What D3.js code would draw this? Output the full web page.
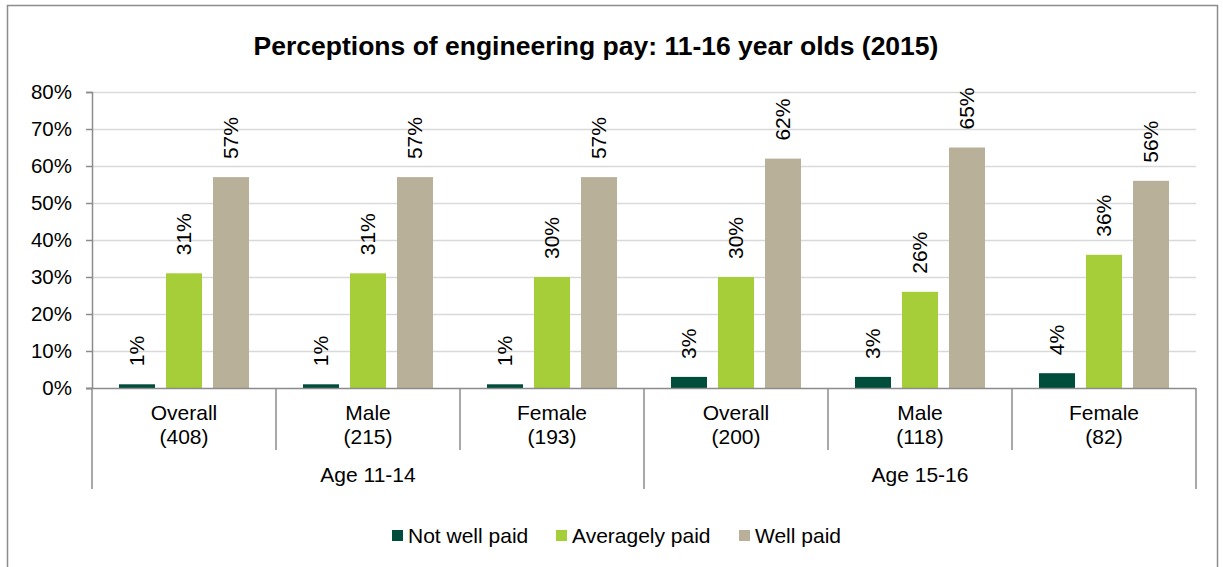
<!DOCTYPE html>
<html>
<head>
<meta charset="utf-8">
<script src="https://cdn.jsdelivr.net/npm/d3@7"></script>
<style>
  body { margin: 0; background: #fff; }
  svg text { font-family: "Liberation Sans", Arial, sans-serif; fill: #000; }
</style>
</head>
<body>
<div id="chart"></div>
<script>
  // data
  var groups = ['Age 11-14', 'Age 15-16'];
  var categories = ['Overall', 'Male', 'Female', 'Overall', 'Male', 'Female'];
  var counts = ['(408)', '(215)', '(193)', '(200)', '(118)', '(82)'];
  var groupOf = [0, 0, 0, 1, 1, 1];
  var series = ['Not well paid', 'Averagely paid', 'Well paid'];
  var notWell = [1, 1, 1, 3, 3, 4];
  var averagely = [31, 31, 30, 30, 26, 36];
  var well = [57, 57, 57, 62, 65, 56];
  var yTicks = [0, 10, 20, 30, 40, 50, 60, 70, 80];
  var colors = ['#004d3b', '#a6ce39', '#b9b099'];

(function () {
  var W = 1223, H = 567;
  var mLeft = 92, mRight = 1196, mTop = 92, mBottom = 388;
  var fs = '21px';

  var svg = d3.select('#chart').append('svg')
      .attr('width', W).attr('height', H);

  // outer frame
  svg.append('rect')
    .attr('x', 7.5).attr('y', 5.5)
    .attr('width', 1210).attr('height', 620)
    .attr('fill', 'none').attr('stroke', '#8c8c8c').attr('stroke-width', 1.5);

  svg.append('text')
    .attr('x', 596).attr('y', 55)
    .attr('text-anchor', 'middle')
    .style('font-size', '26.5px').style('font-weight', 'bold')
    .text('Perceptions of engineering pay: 11-16 year olds (2015)');

  var y = d3.scaleLinear().domain([0, 80]).range([mBottom, mTop]);
  var x0 = d3.scaleBand().domain(d3.range(categories.length)).range([mLeft, mRight]);
  var x1 = d3.scaleBand().domain(d3.range(series.length))
      .range([0, x0.bandwidth()]).paddingInner(0.234).paddingOuter(0.574);

  // gridlines
  svg.append('g').selectAll('line')
    .data(yTicks.filter(function (d) { return d > 0; })).enter()
    .append('line')
    .attr('x1', mLeft).attr('x2', mRight)
    .attr('y1', function (d) { return Math.round(y(d)) + 0.5; })
    .attr('y2', function (d) { return Math.round(y(d)) + 0.5; })
    .attr('stroke', '#d9d9d9').attr('stroke-width', 1.5);

  // y axis
  var yAxis = svg.append('g')
    .attr('transform', 'translate(' + mLeft + ',0)')
    .call(d3.axisLeft(y).tickValues(yTicks).tickSize(6).tickPadding(14)
      .tickFormat(function (d) { return d + '%'; }));
  yAxis.select('.domain').attr('stroke', '#8c8c8c').attr('stroke-width', 1.5);
  yAxis.selectAll('.tick line').attr('stroke', '#8c8c8c').attr('stroke-width', 1.5);
  yAxis.selectAll('.tick text')
    .style('font-size', '20.5px')
    .style('font-family', '"Liberation Sans", Arial, sans-serif')
    .attr('fill', '#000');

  var rows = categories.map(function (c, i) {
    return [notWell[i], averagely[i], well[i]];
  });

  var cat = svg.append('g').selectAll('g')
    .data(rows).enter()
    .append('g')
    .attr('transform', function (d, i) { return 'translate(' + x0(i) + ',0)'; });

  cat.selectAll('rect')
    .data(function (d) { return d; }).enter()
    .append('rect')
    .attr('x', function (d, j) { return x1(j); })
    .attr('width', x1.bandwidth())
    .attr('y', function (d) { return y(d); })
    .attr('height', function (d) { return y(0) - y(d); })
    .attr('fill', function (d, j) { return colors[j]; });

  cat.selectAll('text.val')
    .data(function (d) { return d; }).enter()
    .append('text')
    .attr('class', 'val')
    .attr('transform', function (d, j) {
      return 'translate(' + (x1(j) + x1.bandwidth() / 2 + 7) + ',' + (y(d) - 18) + ') rotate(-90)';
    })
    .style('font-size', fs)
    .text(function (d) { return d + '%'; });

  // x axis line
  svg.append('line')
    .attr('x1', mLeft - 6).attr('x2', mRight)
    .attr('y1', mBottom + 0.5).attr('y2', mBottom + 0.5)
    .attr('stroke', '#8c8c8c').attr('stroke-width', 1.5);

  // category separators
  svg.append('g').selectAll('line')
    .data(d3.range(categories.length + 1)).enter()
    .append('line')
    .attr('x1', function (i) { return i < categories.length ? x0(i) : mRight; })
    .attr('x2', function (i) { return i < categories.length ? x0(i) : mRight; })
    .attr('y1', mBottom)
    .attr('y2', function (i) { return i % 3 === 0 ? 489 : 450; })
    .attr('stroke', '#8c8c8c').attr('stroke-width', 1.5);

  var catLabels = svg.append('g').selectAll('text')
    .data(categories).enter()
    .append('text')
    .attr('text-anchor', 'middle')
    .style('font-size', fs);
  catLabels.append('tspan')
    .attr('x', function (d, i) { return x0(i) + x0.bandwidth() / 2; })
    .attr('y', 420)
    .text(function (d) { return d; });
  catLabels.append('tspan')
    .attr('x', function (d, i) { return x0(i) + x0.bandwidth() / 2; })
    .attr('y', 444)
    .text(function (d, i) { return counts[i]; });

  svg.append('g').selectAll('text')
    .data(groups).enter()
    .append('text')
    .attr('text-anchor', 'middle')
    .style('font-size', fs)
    .attr('x', function (d, g) {
      var idx = groupOf.map(function (v, i) { return v === g ? i : -1; })
        .filter(function (i) { return i >= 0; });
      return (x0(idx[0]) + x0(idx[idx.length - 1]) + x0.bandwidth()) / 2;
    })
    .attr('y', 482)
    .text(function (d) { return d; });

  // legend
  var legendX = [392, 556, 739];
  var legend = svg.append('g').selectAll('g')
    .data(series).enter()
    .append('g')
    .attr('transform', function (d, i) { return 'translate(' + legendX[i] + ',530)'; });
  legend.append('rect')
    .attr('width', 11).attr('height', 11)
    .attr('fill', function (d, i) { return colors[i]; });
  legend.append('text')
    .attr('x', 16).attr('y', 13)
    .style('font-size', fs)
    .text(function (d) { return d; });
})();
</script>
</body>
</html>
